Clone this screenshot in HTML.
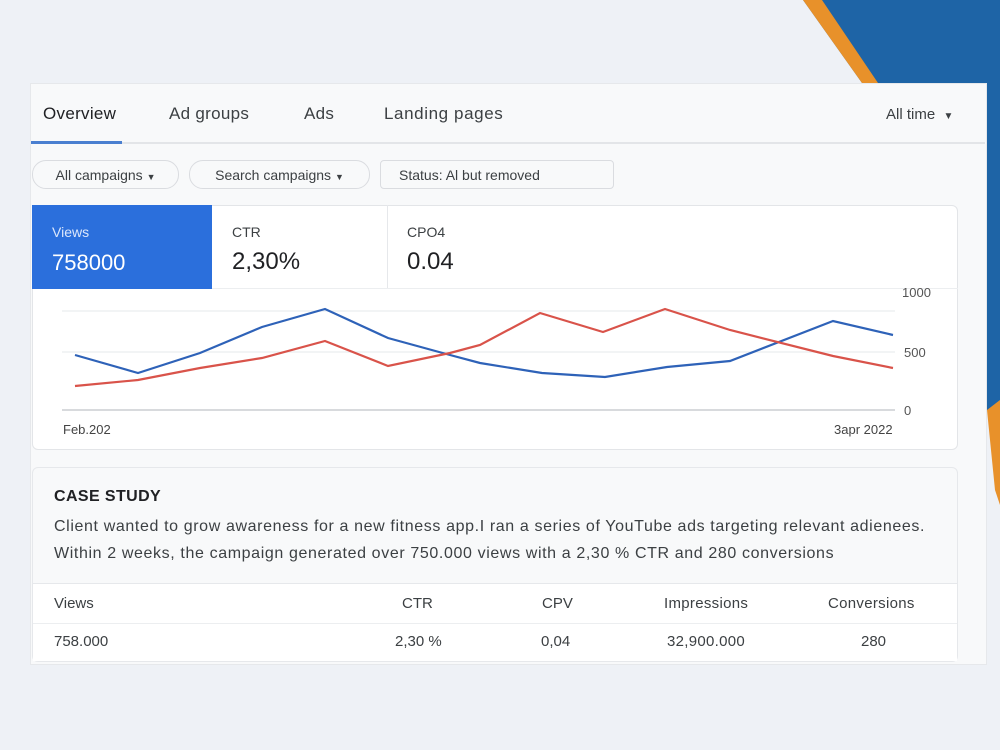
<!DOCTYPE html>
<html><head><meta charset="utf-8"><style>
*{margin:0;padding:0;box-sizing:border-box}
body{width:1000px;height:750px;overflow:hidden;background:#eef1f6;font-family:"Liberation Sans",sans-serif;color:#3c4043;position:relative}
.a{position:absolute;white-space:nowrap}
.pill{position:absolute;border:1px solid #dadce0;border-radius:14px;background:#f8f9fa;font-size:14px;color:#3c4043;padding:6px 0;text-align:center;height:29px}
</style></head><body>
<svg class="a" style="left:0;top:0" width="1000" height="750">
<polygon points="803,0 1000,0 1000,410 987,410 987,83 862,83" fill="#1e64a6"/>
<polygon points="803,0 822,0 878,83 862,83" fill="#e8912a"/>
<polygon points="987,410 1000,400 1000,505 995,490" fill="#e8912a"/>
</svg>
<div class="a" style="left:30px;top:83px;width:957px;height:582px;background:#f8f9fa;border:1px solid #e6e8eb"></div>
<div class="a" style="left:43px;top:104px;font-size:17px;color:#202124;letter-spacing:0.3px">Overview</div>
<div class="a" style="left:169px;top:104px;font-size:17px;letter-spacing:0.3px">Ad groups</div>
<div class="a" style="left:304px;top:104px;font-size:17px;letter-spacing:0.3px">Ads</div>
<div class="a" style="left:384px;top:104px;font-size:17px;letter-spacing:0.6px">Landing pages</div>
<div class="a" style="left:886px;top:106px;font-size:15px">All time &nbsp;<span style="font-size:10px">▼</span></div>
<div class="a" style="left:31px;top:142px;width:954px;height:2px;background:#e3e5e8"></div>
<div class="a" style="left:31px;top:141px;width:91px;height:3px;background:#4a7fd0"></div>
<div class="pill" style="left:32px;top:160px;width:147px">All campaigns <span style="font-size:9px">▼</span></div>
<div class="pill" style="left:189px;top:160px;width:181px">Search campaigns <span style="font-size:9px">▼</span></div>
<div class="pill" style="left:380px;top:160px;width:234px;border-radius:4px;text-align:left;padding-left:18px">Status: Al but removed</div>
<div class="a" style="left:32px;top:205px;width:926px;height:245px;background:#fff;border:1px solid #e3e5e8;border-radius:6px"></div>
<div class="a" style="left:32px;top:205px;width:180px;height:84px;background:#2b6fdc"></div>
<div class="a" style="left:387px;top:205px;width:1px;height:84px;background:#e6e8eb"></div>
<div class="a" style="left:212px;top:288px;width:746px;height:1px;background:#eceef0"></div>
<div class="a" style="left:52px;top:224px;font-size:14px;color:#dce7fb">Views</div>
<div class="a" style="left:52px;top:250px;font-size:22px;color:#fff">758000</div>
<div class="a" style="left:232px;top:224px;font-size:14px">CTR</div>
<div class="a" style="left:232px;top:248px;font-size:24px;color:#202124">2,30%</div>
<div class="a" style="left:407px;top:224px;font-size:14px">CPO4</div>
<div class="a" style="left:407px;top:248px;font-size:24px;color:#202124">0.04</div>
<svg class="a" style="left:0;top:0" width="1000" height="750">
<g stroke="#eef0f2" stroke-width="1.5"><line x1="62" y1="311" x2="895" y2="311"/><line x1="62" y1="352" x2="895" y2="352"/></g>
<line x1="62" y1="410" x2="895" y2="410" stroke="#d8dadd" stroke-width="2"/>
<polyline fill="none" stroke="#2e62b8" stroke-width="2.2" points="75,355 138,373 200,353 262,327 325,309 388,338 450,355 480,363 542,373 605,377 667,367 730,361 833,321 893,335"/>
<polyline fill="none" stroke="#d9534a" stroke-width="2.2" points="75,386 138,380 200,368 262,358 325,341 388,366 450,353 480,345 540,313 603,332 665,309 730,330 833,356 893,368"/>
<text x="902" y="297" font-size="13" fill="#555" font-family="Liberation Sans">1000</text>
<text x="904" y="357" font-size="13" fill="#555" font-family="Liberation Sans">500</text>
<text x="904" y="415" font-size="13" fill="#555" font-family="Liberation Sans">0</text>
<text x="63" y="434" font-size="13" fill="#444" font-family="Liberation Sans">Feb.202</text>
<text x="834" y="434" font-size="13" fill="#444" font-family="Liberation Sans">3apr 2022</text>
</svg>
<div class="a" style="left:32px;top:467px;width:926px;height:195px;background:#f8f9fa;border:1px solid #e6e8eb;border-radius:6px"></div>
<div class="a" style="left:33px;top:583px;width:924px;height:78px;background:#fff;border-top:1px solid #e6e8eb"></div>
<div class="a" style="left:33px;top:623px;width:924px;height:1px;background:#eceef0"></div>
<div class="a" style="left:54px;top:488px;font-size:16px;font-weight:bold;color:#202124;letter-spacing:0.4px">CASE STUDY</div>
<div class="a" style="left:54px;top:518px;font-size:16px;color:#3c4043;letter-spacing:0.62px">Client wanted to grow awareness for a new fitness app.I ran a series of YouTube ads targeting relevant adienees.</div>
<div class="a" style="left:54px;top:545px;font-size:16px;color:#3c4043;letter-spacing:0.62px">Within 2 weeks, the campaign generated over 750.000 views with a 2,30 % CTR and 280 conversions</div>
<div class="a" style="left:54px;top:595px;font-size:15px">Views</div>
<div class="a" style="left:402px;top:595px;font-size:15px">CTR</div>
<div class="a" style="left:542px;top:595px;font-size:15px">CPV</div>
<div class="a" style="left:664px;top:595px;font-size:15px;letter-spacing:0.3px">Impressions</div>
<div class="a" style="left:828px;top:595px;font-size:15px;letter-spacing:0.3px">Conversions</div>
<div class="a" style="left:54px;top:633px;font-size:15px">758.000</div>
<div class="a" style="left:395px;top:633px;font-size:15px">2,30 %</div>
<div class="a" style="left:541px;top:633px;font-size:15px">0,04</div>
<div class="a" style="left:667px;top:633px;font-size:15px;letter-spacing:0.3px">32,900.000</div>
<div class="a" style="left:861px;top:633px;font-size:15px">280</div>
</body></html>
